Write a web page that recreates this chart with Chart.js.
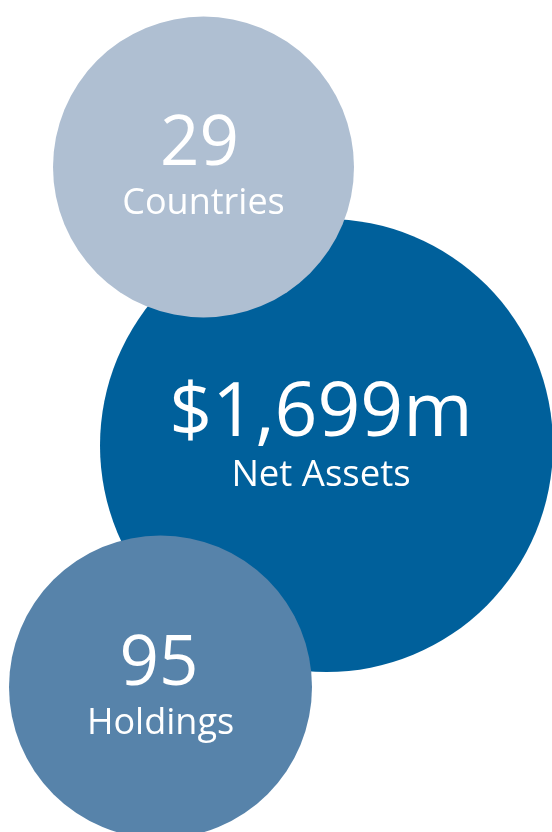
<!DOCTYPE html>
<html>
<head>
<meta charset="utf-8">
<script src="https://cdn.jsdelivr.net/npm/chart.js@4/dist/chart.umd.min.js"></script>
<style>
  html, body { margin: 0; padding: 0; background: #ffffff; }
  #wrap { width: 552px; height: 832px; position: relative; }
  canvas { display: block; }
</style>
</head>
<body>
<div id="wrap"><canvas id="c" width="552" height="832"></canvas></div>
<script>
// Categories and values (draw order: Net Assets behind, then Countries, then Holdings)
const categories = ['Net Assets', 'Countries', 'Holdings'];
const valueLabels = ['$1,699m', '29', '95'];
const bubbleX = [326.5, 203.5, 160.5];
const bubbleY = [445.5, 167, 687];
const bubbleR = [226.5, 150.5, 151.5];
const colors = ['#00609B', '#AFBFD2', '#5783AA'];

const labelPlugin = {
  id: 'bubbleLabels',
  afterDatasetsDraw(chart, args, opts) {
    const ctx = chart.ctx;
    const meta = chart.getDatasetMeta(0);
    ctx.save();
    ctx.fillStyle = '#ffffff';
    ctx.textAlign = 'center';
    ctx.textBaseline = 'alphabetic';
    meta.data.forEach((el, i) => {
      const st = opts.styles[i];
      ctx.font = st.bigSize + 'px "Open Sans", sans-serif';
      ctx.fillText(valueLabels[i], el.x + st.bigDx, el.y + st.bigDy);
      ctx.font = st.smallSize + 'px "Open Sans", sans-serif';
      ctx.fillText(categories[i], el.x + st.smallDx, el.y + st.smallDy);
    });
    ctx.restore();
  }
};

new Chart(document.getElementById('c'), {
  type: 'bubble',
  data: {
    datasets: [{
      data: bubbleX.map((x, i) => ({ x: x, y: bubbleY[i], r: bubbleR[i] })),
      backgroundColor: colors,
      borderWidth: 0,
      hoverBorderWidth: 0,
      clip: false
    }]
  },
  options: {
    responsive: false,
    animation: false,
    events: [],
    layout: { padding: 0, autoPadding: false },
    scales: {
      x: { type: 'linear', min: 0, max: 552, display: false },
      y: { type: 'linear', min: 0, max: 832, reverse: true, display: false }
    },
    plugins: {
      legend: { display: false },
      tooltip: { enabled: false },
      bubbleLabels: {
        styles: [
          { bigSize: 75, smallSize: 36.5, bigDx: -5.5, smallDx: -5.5, bigDy: -10, smallDy: 40 },
          { bigSize: 69, smallSize: 36, bigDx: -4, smallDx: 0, bigDy: -2, smallDy: 47 },
          { bigSize: 69, smallSize: 36, bigDx: -1.5, smallDx: 0, bigDy: -2, smallDy: 47 }
        ]
      }
    }
  },
  plugins: [labelPlugin]
});
</script>
</body>
</html>
